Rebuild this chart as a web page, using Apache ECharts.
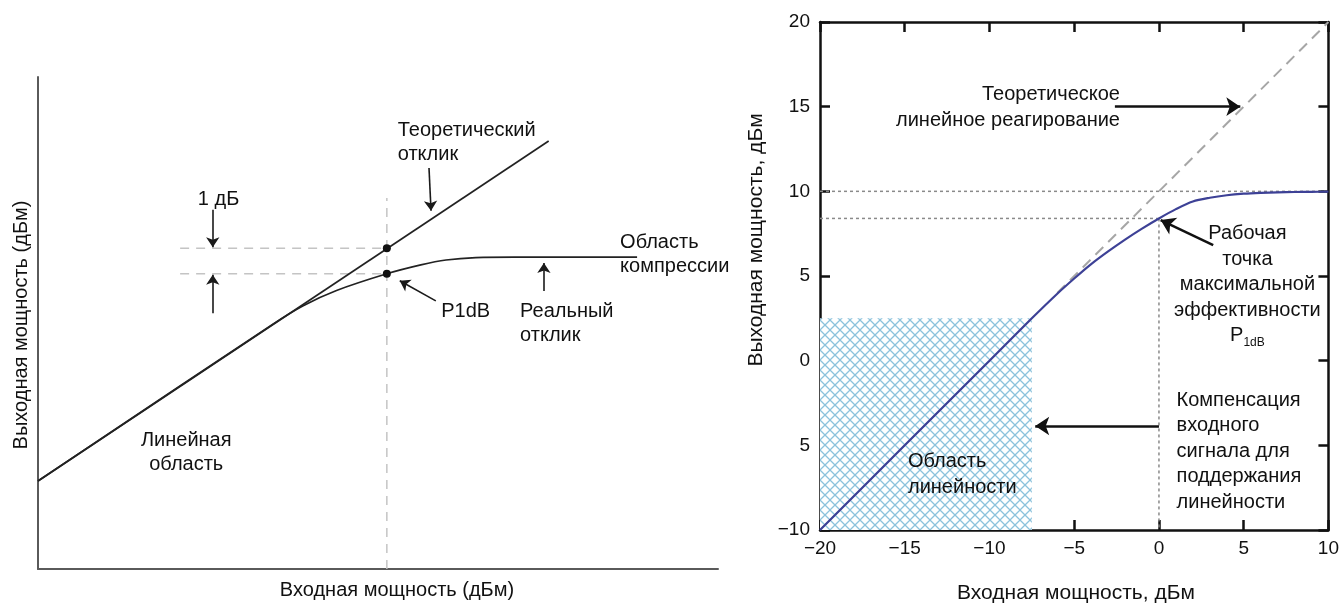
<!DOCTYPE html>
<html><head><meta charset="utf-8">
<script src="https://cdn.jsdelivr.net/npm/echarts@6/dist/echarts.min.js"></script>
<style>html,body{margin:0;padding:0;background:#fff}#c{width:1342px;height:603px}</style>
</head><body><div id="c"></div>
<script>
// ===== Left diagram (conceptual, arbitrary units 0..100) =====
const leftTheoryX = [0, 75.1];
const leftTheoryY = [17.9, 87.0];
const leftRealX = [0, 34.6, 39, 43.9, 51.3, 56.3, 60, 64.4, 70, 88.1];
const leftRealY = [17.9, 49.8, 53.5, 56.6, 60.0, 61.8, 62.8, 63.3, 63.4, 63.4];
const leftDotX = [51.3, 51.3];
const leftDotY = [65.2, 60.0];
const leftGuideTop = 75.4;
const leftGuideStartX = 20.9;
// arrows: [x1, y1, x2, y2]
const leftArrows = [
  [57.5, 81.5, 57.8, 72.8],
  [25.7, 73.0, 25.7, 65.4],
  [25.7, 52.0, 25.7, 59.8],
  [58.5, 54.5, 53.2, 58.6],
  [74.4, 56.5, 74.4, 62.2]
];
// texts: [x, y, text, align]
const leftTexts = [
  [52.9, 86.6, 'Теоретический\nотклик', 'left'],
  [23.5, 75.2, '1 дБ', 'left'],
  [59.3, 52.4, 'P1dB', 'left'],
  [70.9, 50.0, 'Реальный\nотклик', 'left'],
  [85.6, 63.85, 'Область\nкомпрессии', 'left'],
  [21.8, 23.6, 'Линейная\nобласть', 'center']
];

// ===== Right chart (dBm) =====
const inputPower  = [-20, -15, -10, -7.5, -6, -5, -4, -3, -2, -1, 0, 1, 2, 3, 4, 5, 6, 7, 8, 9, 10];
const outputPower = [-10, -5, 0, 2.5, 3.95, 4.85, 5.7, 6.45, 7.15, 7.8, 8.4, 8.95, 9.4, 9.62, 9.77, 9.86, 9.91, 9.94, 9.96, 9.97, 9.98];
const theoryX = [-6, 10];
const theoryY = [4, 20];
const p1dbX = 0, p1dbY = 8.4, satY = 10;
const linRegionX = [-20, -7.5];
const linRegionY = [-10, 2.5];
const xTickValues = [-20, -15, -10, -5, 0, 5, 10];
const xTickLabels = ['\u221220', '\u221215', '\u221210', '\u22125', '0', '5', '10'];
const yTickValues = [-10, -5, 0, 5, 10, 15, 20];
const yTickLabels = ['\u221210', '5', '0', '5', '10', '15', '20'];
const rightArrows = [
  [-2.6, 15, 4.8, 15],
  [3.2, 6.83, 0.1, 8.3],
  [0, -3.86, -7.3, -3.86]
];
const rightTexts = [
  [-2.3, 14.95, 'Теоретическое\nлинейное реагирование', 'right'],
  [5.22, 4.47, 'Рабочая\nточка\nмаксимальной\nэффективности\n{p|P}{s|1dB}', 'center'],
  [1.04, -5.34, 'Компенсация\nвходного\nсигнала для\nподдержания\nлинейности', 'left'],
  [-14.81, -6.73, 'Область\nлинейности', 'left']
];

const FONT = 'Liberation Sans, Arial, sans-serif';
const TXT = '#111111';
const chart = echarts.init(document.getElementById('c'));

// hatch pattern
const pc = document.createElement('canvas');
pc.width = 10; pc.height = 10;
const g = pc.getContext('2d');
g.fillStyle = '#ffffff'; g.fillRect(0, 0, 10, 10);
g.strokeStyle = '#8cc2dc'; g.lineWidth = 1.3;
g.beginPath(); g.moveTo(-1, -1); g.lineTo(11, 11); g.moveTo(11, -1); g.lineTo(-1, 11); g.stroke();

function pairs(xs, ys) { return xs.map((x, i) => [x, ys[i]]); }
function textSeries(list, xi, yi, size, lh) {
  return {
    type: 'scatter', xAxisIndex: xi, yAxisIndex: yi, symbolSize: 0, silent: true, z: 10,
    itemStyle: { opacity: 1 },
    data: list.map(t => ({
      value: [t[0], t[1]],
      label: {
        show: true, formatter: t[2], align: t[3],
        position: t[3] === 'left' ? 'right' : (t[3] === 'right' ? 'left' : 'inside'),
        distance: 0
      }
    })),
    label: {
      color: TXT, opacity: 1, fontSize: size, fontFamily: FONT, lineHeight: lh,
      rich: {
        p: { fontSize: size, fontFamily: FONT, color: TXT, lineHeight: lh },
        s: { fontSize: 12, fontFamily: FONT, color: TXT, verticalAlign: 'bottom', lineHeight: 18 }
      }
    }
  };
}
function arrowSeries(list, xi, yi, w, size, color) {
  return {
    type: 'lines', coordinateSystem: 'cartesian2d', xAxisIndex: xi, yAxisIndex: yi, silent: true, z: 9,
    symbol: ['none', 'arrow'], symbolSize: size,
    lineStyle: { color: color, width: w, opacity: 1, curveness: 0 },
    data: list.map(a => ({ coords: [[a[0], a[1]], [a[2], a[3]]] }))
  };
}
const guideLeft = { color: '#c4c4c4', width: 1.5, type: [9, 7] };
const dotted = { color: '#8a8a8a', width: 1.5, type: [3, 3] };

chart.setOption({
  animation: false,
  backgroundColor: '#fff',
  grid: [
    { left: 38, top: 77, width: 680, height: 492 },
    { left: 820, top: 22, width: 509, height: 508 }
  ],
  xAxis: [
    { gridIndex: 0, type: 'value', min: 0, max: 100, axisLine: { show: true, lineStyle: { color: '#5a5a5a', width: 2 } },
      axisTick: { show: false }, axisLabel: { show: false }, splitLine: { show: false } },
    { gridIndex: 1, type: 'value', min: -20, max: 10, interval: 5, position: 'bottom',
      axisLine: { show: true, onZero: false, lineStyle: { color: '#111', width: 2.5 } },
      axisTick: { show: true, inside: true, length: 10, lineStyle: { color: '#111', width: 2.5 } },
      axisLabel: { show: true, margin: 9, fontSize: 19, fontFamily: FONT, color: TXT,
        formatter: v => xTickLabels[xTickValues.indexOf(v)] },
      splitLine: { show: false } },
    { gridIndex: 1, type: 'value', min: -20, max: 10, interval: 5, position: 'top',
      axisLine: { show: true, onZero: false, lineStyle: { color: '#111', width: 2.5 } },
      axisTick: { show: true, inside: true, length: 10, lineStyle: { color: '#111', width: 2.5 } },
      axisLabel: { show: false }, splitLine: { show: false } }
  ],
  yAxis: [
    { gridIndex: 0, type: 'value', min: 0, max: 100, axisLine: { show: true, lineStyle: { color: '#5a5a5a', width: 2 } },
      axisTick: { show: false }, axisLabel: { show: false }, splitLine: { show: false } },
    { gridIndex: 1, type: 'value', min: -10, max: 20, interval: 5, position: 'left',
      axisLine: { show: true, onZero: false, lineStyle: { color: '#111', width: 2.5 } },
      axisTick: { show: true, inside: true, length: 10, lineStyle: { color: '#111', width: 2.5 } },
      axisLabel: { show: true, margin: 10, fontSize: 19, fontFamily: FONT, color: TXT,
        formatter: v => yTickLabels[yTickValues.indexOf(v)] },
      splitLine: { show: false } },
    { gridIndex: 1, type: 'value', min: -10, max: 20, interval: 5, position: 'right',
      axisLine: { show: true, onZero: false, lineStyle: { color: '#111', width: 2.5 } },
      axisTick: { show: true, inside: true, length: 10, lineStyle: { color: '#111', width: 2.5 } },
      axisLabel: { show: false }, splitLine: { show: false } }
  ],
  graphic: [
    { type: 'text', x: 21, y: 325, rotation: Math.PI / 2,
      style: { text: 'Выходная мощность (дБм)', fontSize: 20, fontFamily: FONT, fill: TXT, align: 'center', verticalAlign: 'middle' } },
    { type: 'text', x: 397, y: 590,
      style: { text: 'Входная мощность (дБм)', fontSize: 20, fontFamily: FONT, fill: TXT, align: 'center', verticalAlign: 'middle' } },
    { type: 'text', x: 756, y: 240, rotation: Math.PI / 2,
      style: { text: 'Выходная мощность, дБм', fontSize: 21, fontFamily: FONT, fill: TXT, align: 'center', verticalAlign: 'middle' } },
    { type: 'text', x: 1076, y: 593,
      style: { text: 'Входная мощность, дБм', fontSize: 21, fontFamily: FONT, fill: TXT, align: 'center', verticalAlign: 'middle' } }
  ],
  series: [
    // ---- left ----
    { type: 'line', xAxisIndex: 0, yAxisIndex: 0, symbol: 'none', silent: true, z: 3,
      lineStyle: guideLeft, data: [[leftDotX[0], 0], [leftDotX[0], leftGuideTop]] },
    { type: 'line', xAxisIndex: 0, yAxisIndex: 0, symbol: 'none', silent: true, z: 3,
      lineStyle: guideLeft, data: [[leftGuideStartX, leftDotY[0]], [leftDotX[0], leftDotY[0]]] },
    { type: 'line', xAxisIndex: 0, yAxisIndex: 0, symbol: 'none', silent: true, z: 3,
      lineStyle: guideLeft, data: [[leftGuideStartX, leftDotY[1]], [leftDotX[1], leftDotY[1]]] },
    { type: 'line', xAxisIndex: 0, yAxisIndex: 0, symbol: 'none', silent: true, z: 4,
      lineStyle: { color: '#222', width: 1.7 }, data: pairs(leftTheoryX, leftTheoryY) },
    { type: 'line', xAxisIndex: 0, yAxisIndex: 0, symbol: 'none', silent: true, z: 4, smooth: 0.35,
      lineStyle: { color: '#222', width: 1.7 }, data: pairs(leftRealX, leftRealY) },
    { type: 'scatter', xAxisIndex: 0, yAxisIndex: 0, symbolSize: 8, silent: true, z: 6,
      itemStyle: { color: '#111', opacity: 1 }, data: pairs(leftDotX, leftDotY) },
    arrowSeries(leftArrows, 0, 0, 1.6, 10, '#1a1a1a'),
    textSeries(leftTexts, 0, 0, 20, 24),
    // ---- right ----
    { type: 'custom', xAxisIndex: 1, yAxisIndex: 1, silent: true, z: 1,
      encode: { x: [0, 2], y: [1, 3] },
      renderItem: function (params, api) {
        const p0 = api.coord([api.value(0), api.value(1)]);
        const p1 = api.coord([api.value(2), api.value(3)]);
        return { type: 'rect', shape: { x: p0[0], y: p1[1], width: p1[0] - p0[0], height: p0[1] - p1[1] },
          style: { fill: { image: pc, repeat: 'repeat' } } };
      },
      data: [[linRegionX[0], linRegionY[0], linRegionX[1], linRegionY[1]]] },
    { type: 'line', xAxisIndex: 1, yAxisIndex: 1, symbol: 'none', silent: true, z: 2,
      lineStyle: dotted, data: [[-20, satY], [10, satY]] },
    { type: 'line', xAxisIndex: 1, yAxisIndex: 1, symbol: 'none', silent: true, z: 2,
      lineStyle: dotted, data: [[-20, p1dbY], [p1dbX, p1dbY]] },
    { type: 'line', xAxisIndex: 1, yAxisIndex: 1, symbol: 'none', silent: true, z: 2,
      lineStyle: dotted, data: [[p1dbX, p1dbY], [p1dbX, -10]] },
    { type: 'line', xAxisIndex: 1, yAxisIndex: 1, symbol: 'none', silent: true, z: 3,
      lineStyle: { color: '#a6a6a6', width: 2, type: [11, 7] }, data: pairs(theoryX, theoryY) },
    { type: 'line', xAxisIndex: 1, yAxisIndex: 1, symbol: 'none', silent: true, z: 4, smooth: 0.3,
      lineStyle: { color: '#3d4196', width: 2.2 }, data: pairs(inputPower, outputPower) },
    arrowSeries(rightArrows, 1, 1, 2.5, 14, '#111'),
    textSeries(rightTexts, 1, 1, 20, 25.5)
  ]
});
</script></body></html>
